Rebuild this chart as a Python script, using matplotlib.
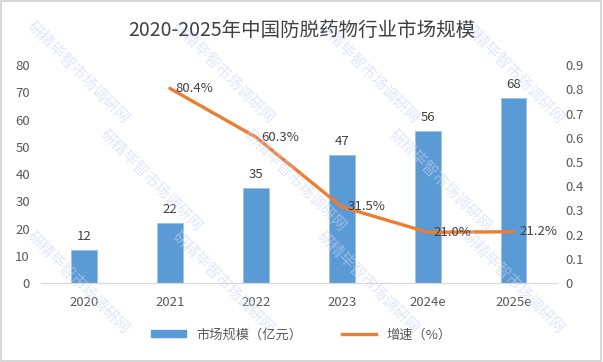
import matplotlib.pyplot as plt
from matplotlib.patches import Rectangle

plt.rcParams['font.family'] = ['Noto Sans CJK SC', 'DejaVu Sans']

# datos
years = ['2020', '2021', '2022', '2023', '2024e', '2025e']
market = [12, 22, 35, 47, 56, 68]
growth_years = ['2021', '2022', '2023', '2024e', '2025e']
growth = [0.804, 0.603, 0.315, 0.210, 0.212]
growth_labels = ['80.4%', '60.3%', '31.5%', '21.0%', '21.2%']

COLOR_BAR = '#5B9BD5'
COLOR_LINE = '#ED7D31'
COLOR_TXT = '#404040'
COLOR_TICK = '#595959'

fig = plt.figure(figsize=(6.03, 3.62), dpi=100)
ax = fig.add_axes([0.068, 0.218, 0.855, 0.602])
ax2 = ax.twinx()

x = list(range(len(years)))
ax.bar(x, market, width=0.3, color=COLOR_BAR, edgecolor='#9DC3E6', linewidth=0.6, zorder=2)
for xi, v in zip(x, market):
    ax.annotate(str(v), xy=(xi, v), xytext=(0, 5), textcoords='offset points',
                ha='center', va='bottom', fontsize=9.5, color=COLOR_TXT)

gx = [years.index(y) for y in growth_years]
ax2.plot(gx, growth, color=COLOR_LINE, linewidth=2.4, solid_capstyle='round', zorder=3)
for xi, v, lab in zip(gx, growth, growth_labels):
    ax2.annotate(lab, xy=(xi, v), xytext=(4, 0), textcoords='offset points',
                 ha='left', va='center', fontsize=9.5, color=COLOR_TXT)

ax.set_xlim(-0.5, len(years) - 0.5)
ax.set_ylim(0, 80)
ax.set_yticks(range(0, 81, 10))
ax2.set_ylim(0, 0.9)
ax2.set_yticks([i / 10 for i in range(10)])
ax2.set_yticklabels(['0'] + [f'{i / 10:.1f}' for i in range(1, 10)])
ax.set_xticks(x)
ax.set_xticklabels(years)

for a in (ax, ax2):
    for s in ('top', 'left', 'right'):
        a.spines[s].set_visible(False)
    a.spines['bottom'].set_color('#D9D9D9')
    a.tick_params(length=0, labelsize=9.5, colors=COLOR_TICK)
ax.tick_params(axis='x', pad=9)
ax.tick_params(axis='y', pad=8)
ax2.tick_params(axis='y', pad=6)

fig.text(0.5, 0.915, '2020-2025年中国防脱药物行业市场规模', ha='center', va='center',
         fontsize=14, color=COLOR_TXT)

# leyenda
h1 = Rectangle((0, 0), 1, 1, color=COLOR_BAR)
h2, = ax.plot([], [], color=COLOR_LINE, linewidth=2.4)
fig.legend([h1, h2], ['市场规模（亿元）', '增速（%）'], loc='center', bbox_to_anchor=(0.5, 0.075),
           ncol=2, frameon=False, fontsize=9.5, labelcolor=COLOR_TICK,
           handlelength=2.6, handleheight=0.5, columnspacing=3.0)

# marca de agua (dentro de la figura)
wm_pos = [(0.13, 0.80), (0.37, 0.80), (0.61, 0.80), (0.85, 0.80),
          (0.25, 0.50), (0.49, 0.50), (0.73, 0.50),
          (0.13, 0.22), (0.37, 0.22), (0.61, 0.22), (0.85, 0.22)]
for px, py in wm_pos:
    fig.text(px, py, '研精毕智市场调研网', rotation=-45, fontsize=11,
             color='#C9D3F5', alpha=0.55, ha='center', va='center', zorder=0)

fig.add_artist(Rectangle((0.002, 0.003), 0.995, 0.994, transform=fig.transFigure,
                         fill=False, edgecolor='#D0D0D0', linewidth=1.2))

fig.savefig('out.png', dpi=100)
